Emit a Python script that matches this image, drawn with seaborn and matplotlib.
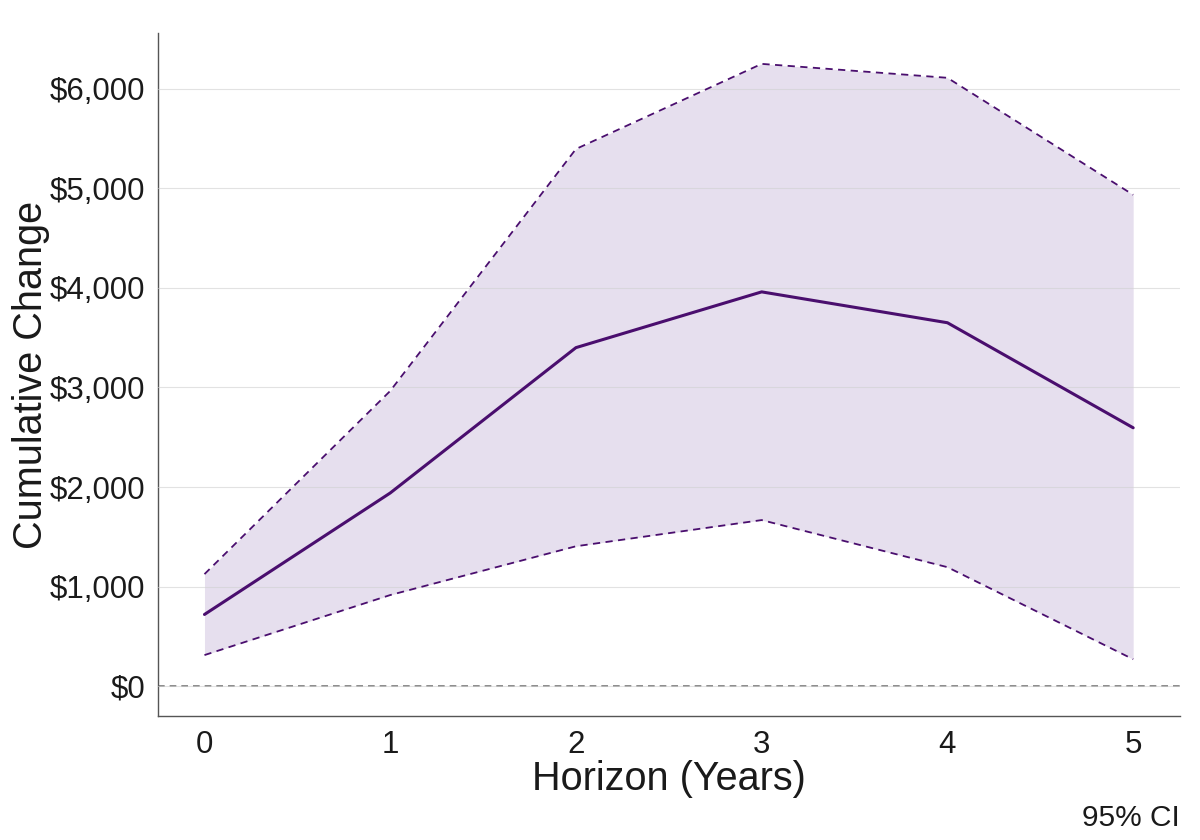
import numpy as np
import pandas as pd
import seaborn as sns
import matplotlib.pyplot as plt
from matplotlib.ticker import FuncFormatter

# Values
horizon = [0, 1, 2, 3, 4, 5]
estimate = [720, 1940, 3400, 3960, 3650, 2595]
ci_upper = [1125, 2965, 5395, 6250, 6110, 4935]
ci_lower = [312, 915, 1405, 1668, 1195, 270]

df = pd.DataFrame({"horizon": horizon, "estimate": estimate,
                   "upper": ci_upper, "lower": ci_lower})

sns.set_style("white")
plt.rcParams['font.family'] = ['Liberation Sans', 'DejaVu Sans']

line_color = "#4a0e6e"
fill_color = "#e6dfee"

fig = plt.figure(figsize=(12, 8.4), dpi=100)
ax = fig.add_axes([0.1317, 0.1476, 0.8513, 0.8131])

ax.fill_between(df["horizon"], df["lower"], df["upper"], color=fill_color, lw=0, zorder=1)
sns.lineplot(data=df, x="horizon", y="upper", ax=ax, color=line_color, lw=1.3,
             linestyle=(0, (4, 3)), zorder=3)
sns.lineplot(data=df, x="horizon", y="lower", ax=ax, color=line_color, lw=1.3,
             linestyle=(0, (4, 3)), zorder=3)
sns.lineplot(data=df, x="horizon", y="estimate", ax=ax, color=line_color, lw=2.2, zorder=4)
ax.axhline(0, color="#777777", lw=1.2, linestyle=(0, (4, 3)), zorder=2)

ax.set_xlim(-0.25, 5.25)
ax.set_ylim(-300, 6560)
ax.set_xticks(horizon)
ax.set_yticks(range(0, 7000, 1000))
ax.yaxis.set_major_formatter(FuncFormatter(lambda v, p: f"${v:,.0f}"))
ax.grid(axis="y", color="#d0d0d0", lw=0.8, alpha=0.6, zorder=2)
ax.set_axisbelow(False)

for s in ["top", "right"]:
    ax.spines[s].set_visible(False)
for s in ["left", "bottom"]:
    ax.spines[s].set_color("#555555")
    ax.spines[s].set_linewidth(1.0)

ax.tick_params(axis="both", labelsize=22.5, colors="#1a1a1a", length=5,
               width=0.8, color="#999999")
ax.tick_params(axis="y", pad=4)
ax.tick_params(axis="x", pad=5)
ax.set_xlabel("Horizon (Years)", fontsize=28.5, color="#1a1a1a", labelpad=0)
ax.set_ylabel("Cumulative Change", fontsize=28.5, color="#1a1a1a", labelpad=0)

fig.text(0.983, 0.01, "95% CI", ha="right", va="bottom", fontsize=21.5, color="#1a1a1a")

fig.savefig("out.png", dpi=100)
